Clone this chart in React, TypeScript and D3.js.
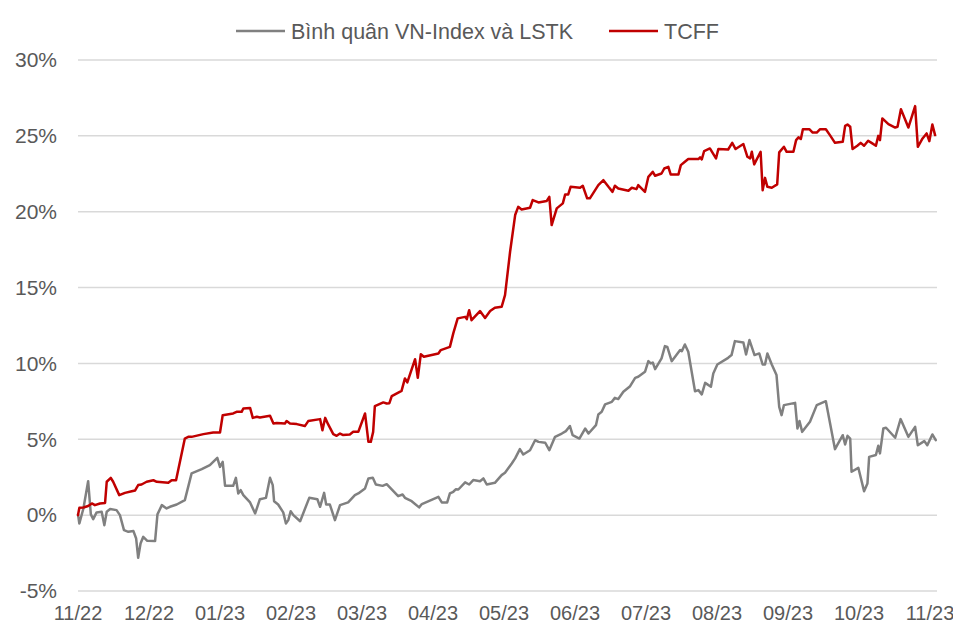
import * as d3 from "d3";

const W = 953;
const H = 627;

const MONTH_LABELS = ["11/22", "12/22", "01/23", "02/23", "03/23", "04/23", "05/23", "06/23", "07/23", "08/23", "09/23", "10/23", "11/23"];
const DAYS_PER_LABEL = 21;
const Y_TICKS = [-5, 0, 5, 10, 15, 20, 25, 30];

const SERIES_NAMES = ["Bình quân VN-Index và LSTK", "TCFF"];
const SERIES_COLORS = ["#808080", "#c00000"];

// [trading day, % return]
const tcff: [number, number][] = [
  [0, 0], [0.4, 0.48], [1.6, 0.5], [3, 0.6], [4.1, 0.77], [5, 0.66], [6.5, 0.77], [8, 0.8], [8.5, 2.2], [9.7, 2.46],
  [10.4, 2.2], [12.2, 1.32], [13.9, 1.47], [15.9, 1.58], [16.9, 1.63], [17.8, 1.98], [18.8, 2.02], [20.3, 2.2], [22.3, 2.3], [23.3, 2.2],
  [26.7, 2.13], [27.7, 2.3], [29, 2.3], [31.6, 5.05], [32.6, 5.16], [33.6, 5.16], [37.1, 5.34], [40, 5.45], [42, 5.45], [42.8, 6.59],
  [45.9, 6.7], [46.9, 6.81], [48.4, 6.81], [48.9, 7.03], [50.9, 7.07], [51.7, 6.41], [52.9, 6.48], [53.8, 6.44], [56.8, 6.55], [57.8, 6.04],
  [58.8, 6.08], [61.2, 6.04], [61.7, 6.2], [62.7, 6.04], [64.7, 6.0], [67.1, 5.87], [68.1, 6.2], [71.6, 6.33], [72.3, 5.6], [73.1, 6.41],
  [74, 5.98], [75.5, 5.34], [76.5, 5.23], [77.5, 5.38], [78.3, 5.29], [80.4, 5.32], [81.4, 5.49], [82.9, 5.49], [84.9, 6.7], [85.9, 4.83],
  [86.6, 4.83], [87.3, 5.49], [87.8, 7.19], [90.3, 7.43], [91.3, 7.36], [92.1, 7.38], [92.8, 7.84], [95.7, 8.19], [96.7, 9.01], [97.4, 8.75],
  [99.7, 10.28], [100.5, 9.05], [101.4, 10.61], [102.3, 10.44], [106.6, 10.66], [107.3, 10.88], [110, 11.09], [111, 11.98], [112.3, 12.97], [114.5, 13.07],
  [115, 12.92], [115.7, 13.51], [116.4, 12.85], [118.9, 13.45], [120.4, 13.0], [121.9, 13.45], [123.3, 13.67], [125.3, 13.73], [126.3, 14.5], [127.8, 17.36],
  [129.3, 19.78], [130.2, 20.32], [131.2, 20.15], [133.7, 20.26], [134.5, 20.77], [136.2, 20.61], [138.6, 20.7], [139.4, 20.98], [140.1, 19.12], [141.6, 20.22],
  [143.4, 20.55], [144.1, 21.14], [145, 21.14], [145.7, 21.64], [148.5, 21.58], [149.3, 21.71], [150.6, 20.88], [151.4, 20.88], [153.9, 21.75], [155.4, 22.08],
  [156.9, 21.64], [158.1, 21.31], [158.8, 21.71], [159.8, 21.53], [162.8, 21.38], [163.8, 21.58], [165.2, 21.49], [165.7, 21.75], [167.7, 21.31], [168.7, 22.3],
  [170, 22.63], [170.7, 22.37], [172.6, 22.52], [173.4, 22.85], [174.6, 22.96], [175.3, 22.46], [177.6, 22.46], [178.3, 23.07], [179.5, 23.29], [180.5, 23.47],
  [183.5, 23.47], [184, 23.58], [184.5, 23.45], [185.2, 24.0], [186.9, 24.17], [188.7, 23.51], [189.4, 24.13], [192.3, 24.1], [193.5, 24.54], [194.5, 24.13],
  [196.8, 24.46], [198, 23.62], [198.8, 23.51], [199.3, 23.95], [200, 23.12], [201.9, 23.95], [202.5, 21.42], [203.2, 22.23], [203.9, 21.64], [205.2, 21.58],
  [206.8, 21.8], [207.4, 23.91], [208.8, 24.28], [209.6, 23.95], [211.6, 23.95], [212.4, 24.72], [213.1, 24.9], [213.8, 24.79], [214.4, 25.44], [216.3, 25.44],
  [217.3, 25.22], [218.5, 25.22], [219.5, 25.44], [221.2, 25.44], [222.4, 25.05], [223.9, 24.54], [226.2, 24.61], [226.9, 25.66], [227.6, 25.75], [228.4, 25.6],
  [229.1, 24.13], [230.5, 24.35], [231.5, 24.54], [232.5, 24.35], [233.7, 24.68], [234.7, 24.54], [236, 24.35], [236.7, 25.0], [237.2, 24.72], [237.9, 26.15],
  [239.7, 25.77], [241.7, 25.55], [242.4, 25.6], [243.4, 26.76], [245.6, 25.55], [247.6, 26.96], [248.4, 24.28], [249.8, 24.83], [251, 25.16], [251.8, 24.65],
  [252.7, 25.75], [253.5, 25.05],
];

const benchmark: [number, number][] = [
  [0, 0.05], [0.4, -0.55], [1.6, 0.44], [3, 2.24], [3.8, 0.05], [4.5, -0.26], [5.5, 0.18], [7, 0.22], [7.8, -0.66], [8.5, 0.22],
  [9.5, 0.4], [11.4, 0.33], [12.4, 0], [13.6, -0.99], [14.9, -1.1], [16.4, -1.05], [17.2, -1.54], [17.8, -2.81], [18.5, -1.87], [19.3, -1.43],
  [20.5, -1.69], [22.8, -1.71], [23.5, 0.05], [24.8, 0.66], [26.2, 0.44], [27.2, 0.55], [29.2, 0.7], [31.6, 0.99], [33.6, 2.75], [36.6, 3.03],
  [39, 3.3], [41.2, 3.78], [42, 3.18], [42.8, 3.51], [43.5, 1.93], [45.9, 1.93], [46.7, 2.46], [47.4, 1.43], [48.1, 1.65], [48.9, 1.32],
  [50.9, 0.84], [52.4, 0.11], [53.8, 1.05], [55.6, 1.14], [56.8, 2.46], [57.6, 1.98], [58, 0.92], [59.2, 0.7], [60.7, 0.18], [61.5, -0.55],
  [62.2, -0.33], [62.9, 0.26], [63.7, 0], [65.7, -0.4], [68.4, 1.14], [70.8, 1.05], [71.6, 0.55], [72.8, 1.47], [73.4, 0.7], [74.5, 0.7],
  [76, -0.33], [77.5, 0.66], [79.9, 0.84], [81.9, 1.32], [82.9, 1.43], [84.9, 1.76], [85.9, 2.42], [87.2, 2.46], [88.1, 2.02], [90.1, 1.93],
  [91.3, 2.04], [94.7, 1.25], [96, 1.36], [96.7, 1.14], [98.7, 0.92], [100.9, 0.51], [101.7, 0.73], [106.6, 1.21], [107.6, 0.84], [109.2, 0.84],
  [110, 1.43], [111, 1.54], [111.8, 1.71], [112.5, 1.69], [114.5, 2.16], [115.7, 2.02], [116.9, 2.31], [118.9, 2.24], [119.9, 2.42], [120.9, 2.02],
  [123.3, 2.13], [125.3, 2.64], [126.3, 2.79], [128.3, 3.4], [129.3, 3.74], [130.7, 4.35], [131.7, 4.0], [133.7, 4.28], [135.2, 4.94], [136.2, 4.83],
  [138.2, 4.77], [139.4, 4.28], [141.1, 5.16], [143.1, 5.38], [144.3, 5.54], [145.5, 5.87], [146.3, 5.27], [148.3, 5.05], [150, 5.71], [151, 5.38],
  [153.2, 5.93], [153.9, 6.64], [154.9, 6.81], [155.9, 7.3], [157.9, 7.47], [158.8, 7.73], [159.8, 7.65], [161.3, 8.13], [163.3, 8.5], [164.8, 9.05],
  [165.7, 9.12], [167.7, 9.45], [168.7, 10.15], [169.4, 10.0], [170, 10.06], [170.7, 9.62], [172.6, 10.33], [173.6, 11.14], [174.3, 11.09], [175.6, 10.15],
  [178.1, 10.88], [178.6, 10.81], [179.5, 11.25], [180.5, 10.77], [182.5, 8.17], [183.5, 8.24], [184.5, 7.96], [185.5, 8.72], [187.2, 8.46], [187.9, 9.34],
  [189.1, 9.93], [192.3, 10.37], [193.3, 10.55], [194.3, 11.47], [196.8, 11.38], [197.6, 10.59], [198.6, 11.54], [200.1, 10.55], [201.5, 10.66], [202.5, 9.93],
  [203.2, 9.93], [203.9, 10.66], [205.2, 9.93], [206.6, 9.23], [207.4, 7.14], [208.1, 6.59], [208.8, 7.25], [212.1, 7.4], [212.8, 5.71], [213.4, 6.2],
  [214.2, 5.49], [216.5, 6.15], [218.5, 7.25], [221.2, 7.51], [223.9, 4.35], [226.2, 5.27], [226.9, 4.66], [227.6, 5.23], [228.4, 5.05], [228.8, 2.86],
  [230.8, 3.12], [232.5, 1.58], [233.5, 2.09], [234, 3.84], [236, 3.96], [236.7, 4.57], [237.2, 4.07], [238.2, 5.71], [239, 5.76], [241.7, 5.1],
  [243.3, 6.33], [245.6, 5.16], [247.6, 5.82], [248.4, 4.61], [250.3, 4.88], [251.2, 4.61], [252.7, 5.32], [253.7, 4.94],
];

const FONT = "'Liberation Sans', Arial, sans-serif";
const TEXT = "#595959";

export default function App() {
  const plotLeft = 78;
  const plotRight = 937;
  const lastTick = (MONTH_LABELS.length - 1) * DAYS_PER_LABEL;

  const x = d3.scaleLinear().domain([0, lastTick]).range([plotLeft, 930]);
  const y = d3.scaleLinear().domain([-5, 30]).range([591, 60]);

  const line = d3
    .line<[number, number]>()
    .x((d) => x(d[0]))
    .y((d) => y(d[1]));

  const series = [benchmark, tcff];

  const legendItems = [
    { x0: 236, textX: 291, w: 49 },
    { x0: 609, textX: 664, w: 49 },
  ];

  return (
    <svg
      width={W}
      height={H}
      viewBox={`0 0 ${W} ${H}`}
      style={{ position: "absolute", left: 0, top: 0, background: "#fff" }}
      fontFamily={FONT}
    >
      <rect width={W} height={H} fill="#fff" />
      {Y_TICKS.map((t) => (
        <g key={t}>
          <line x1={plotLeft} x2={plotRight} y1={y(t)} y2={y(t)} stroke="#d9d9d9" strokeWidth={1.5} />
          <text x={57} y={y(t)} dy="0.35em" textAnchor="end" fontSize={21} fill={TEXT}>
            {`${t}%`}
          </text>
        </g>
      ))}
      {MONTH_LABELS.map((m, i) => (
        <text key={m} x={x(i * DAYS_PER_LABEL)} y={620} textAnchor="middle" fontSize={20} fill={TEXT}>
          {m}
        </text>
      ))}
      {series.map((s, i) => (
        <path
          key={SERIES_NAMES[i]}
          d={line(s) ?? ""}
          fill="none"
          stroke={SERIES_COLORS[i]}
          strokeWidth={2.5}
          strokeLinejoin="round"
          strokeLinecap="round"
        />
      ))}
      {legendItems.map((l, i) => (
        <g key={SERIES_NAMES[i]}>
          <line x1={l.x0} x2={l.x0 + l.w} y1={31} y2={31} stroke={SERIES_COLORS[i]} strokeWidth={2.5} />
          <text x={l.textX} y={31} dy="0.35em" fontSize={21.5} fill={TEXT}>
            {SERIES_NAMES[i]}
          </text>
        </g>
      ))}
    </svg>
  );
}
